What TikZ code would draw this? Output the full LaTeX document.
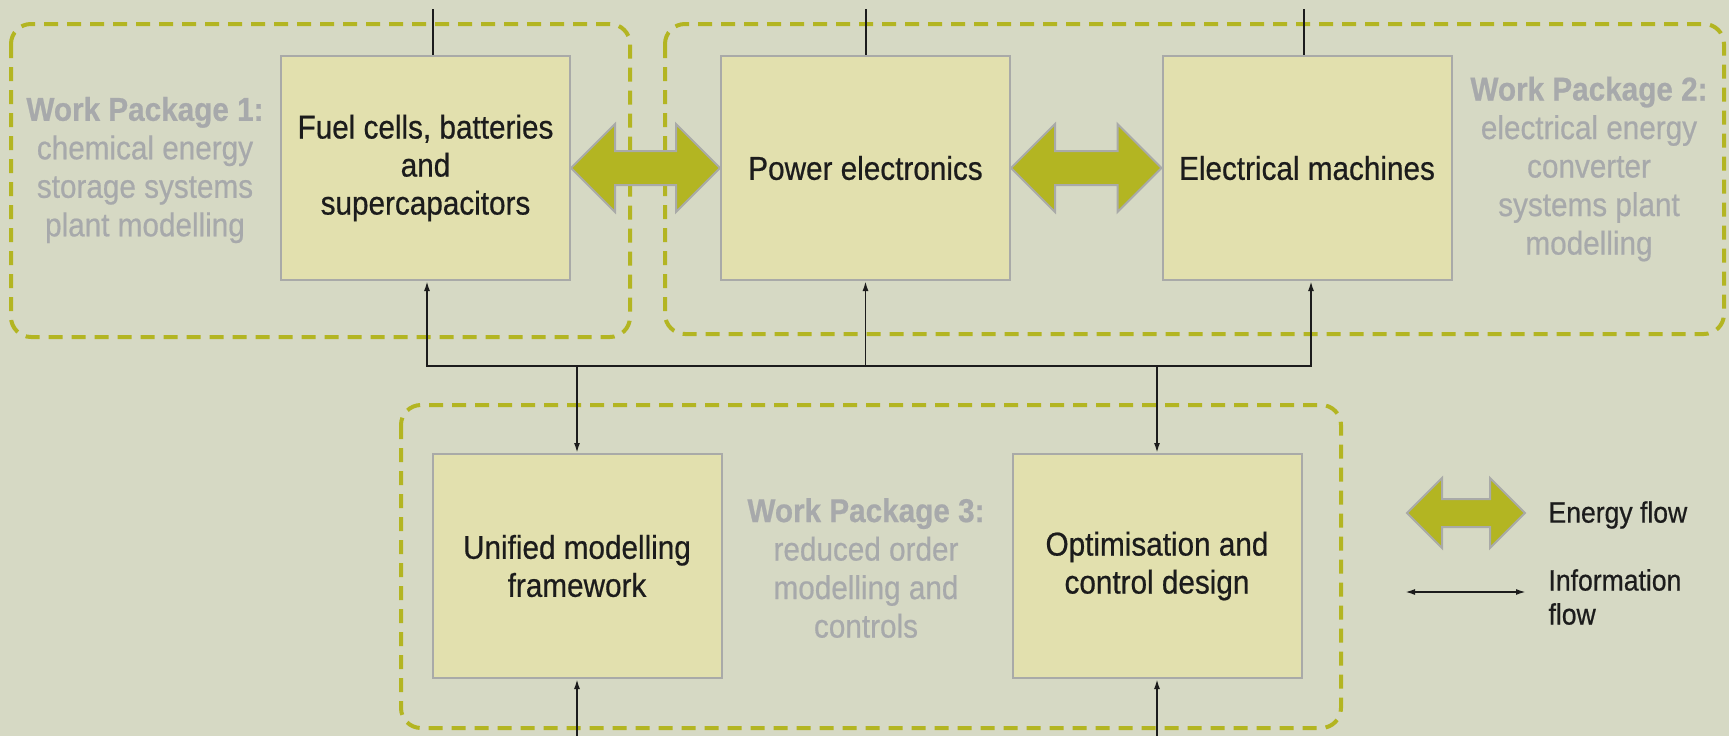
\documentclass[tikz,border=0pt]{standalone}
\usepackage{fontspec}
\setmainfont{Liberation Sans}[FakeStretch=0.9,FakeBold=0.6]
\usetikzlibrary{arrows.meta,calc}
\definecolor{bgc}{HTML}{D6D9C4}
\definecolor{boxfill}{HTML}{E2E0AE}
\definecolor{boxline}{HTML}{A9AAA8}
\definecolor{wpolive}{HTML}{B3B522}
\definecolor{wpgray}{HTML}{A7A9AB}
\definecolor{txt}{HTML}{1C1C1C}
\begin{document}
\begin{tikzpicture}[x=1pt,y=-1pt,
  box/.style={draw=boxline, line width=2pt, fill=boxfill, minimum width=289pt, minimum height=224pt, inner sep=0pt, align=center, text=txt, font=\fontsize{33}{38}\selectfont},
  wpbox/.style={rounded corners=20pt, draw=wpolive, line width=4pt, dash pattern=on 14pt off 9pt},
  wptext/.style={align=center, text=wpgray, font=\fontsize{33}{38.5}\selectfont},
  info/.style={draw=txt, line width=1.8pt},
  tip/.style={-{Latex[length=10pt,width=6pt]}},
  energy/.style={fill=wpolive, draw=boxline, line width=2pt, line join=miter},
  legtext/.style={align=left, text=txt, anchor=west, font=\fontsize{29.5}{34}\selectfont}
]
\useasboundingbox (0,0) rectangle (1729,736);
\fill[bgc] (0,0) rectangle (1729,736);

% work package frames
\draw[wpbox] (11,24) rectangle (630,337);
\draw[wpbox] (665,24) rectangle (1724,334);
\draw[wpbox] (401,405) rectangle (1341,728);

% boxes
\node[box] (fc) at (425.5,168) {Fuel cells, batteries\\and\\supercapacitors};
\node[box] (pe) at (865.5,168) {Power electronics};
\node[box] (em) at (1307,168) {Electrical machines};
\node[box] (umf) at (577,566) {Unified modelling\\framework};
\node[box] (ocd) at (1157,566) {Optimisation and\\control design};

% work package texts
\node[wptext] (wp1) at (145,170) {\textbf{Work Package 1:}\\chemical energy\\storage systems\\plant modelling};
\node[wptext] (wp2) at (1589,169) {\textbf{Work Package 2:}\\electrical energy\\converter\\systems plant\\modelling};
\node[wptext] (wp3) at (866,568) {\textbf{Work Package 3:}\\reduced order\\modelling and\\controls};

% energy arrows
\filldraw[energy] (fc.east) -- ($(fc.east)+(44,-44)$) -- ($(fc.east)+(44,-17)$) -- ($(pe.west)+(-44,-17)$) -- ($(pe.west)+(-44,-44)$) -- (pe.west) -- ($(pe.west)+(-44,44)$) -- ($(pe.west)+(-44,17)$) -- ($(fc.east)+(44,17)$) -- ($(fc.east)+(44,44)$) -- cycle;
\filldraw[energy] (pe.east) -- ($(pe.east)+(44,-44)$) -- ($(pe.east)+(44,-17)$) -- ($(em.west)+(-44,-17)$) -- ($(em.west)+(-44,-44)$) -- (em.west) -- ($(em.west)+(-44,44)$) -- ($(em.west)+(-44,17)$) -- ($(pe.east)+(44,17)$) -- ($(pe.east)+(44,44)$) -- cycle;

% information lines
\coordinate (t1) at (433,9);
\coordinate (t2) at (866,9);
\coordinate (t3) at (1304,9);
\draw[info] (t1) -- (t1 |- fc.north);
\draw[info] (t2) -- (t2 |- pe.north);
\draw[info] (t3) -- (t3 |- em.north);

\coordinate (bl) at (427,366);
\coordinate (br) at (1311,366);
\draw[info, {Latex[length=10pt,width=6pt]}-{Latex[length=10pt,width=6pt]}] (bl |- fc.south) -- (bl) -- (br) -- (br |- em.south);
\draw[info, tip] (pe.south |- bl) -- (pe.south);
\draw[info, tip] (umf.north |- bl) -- (umf.north);
\draw[info, tip] (ocd.north |- bl) -- (ocd.north);

\coordinate (b1) at (577,736);
\coordinate (b2) at (1157,736);
\draw[info, tip] (b1) -- (umf.south);
\draw[info, tip] (b2) -- (ocd.south);

% legend
\coordinate (le1) at (1407,513);
\coordinate (le2) at (1525,513);
\filldraw[energy] (le1) -- ($(le1)+(35,-35)$) -- ($(le1)+(35,-14)$) -- ($(le2)+(-35,-14)$) -- ($(le2)+(-35,-35)$) -- (le2) -- ($(le2)+(-35,35)$) -- ($(le2)+(-35,14)$) -- ($(le1)+(35,14)$) -- ($(le1)+(35,35)$) -- cycle;
\node[legtext] (lef) at (1545,515) {Energy flow};
\coordinate (li1) at (1405,592);
\coordinate (li2) at (1526,592);
\draw[info, {Latex[length=10pt,width=6pt]}-{Latex[length=10pt,width=6pt]}] (li1) -- (li2);
\node[legtext] (lif) at (1545,597) {Information\\flow};
\end{tikzpicture}
\end{document}
